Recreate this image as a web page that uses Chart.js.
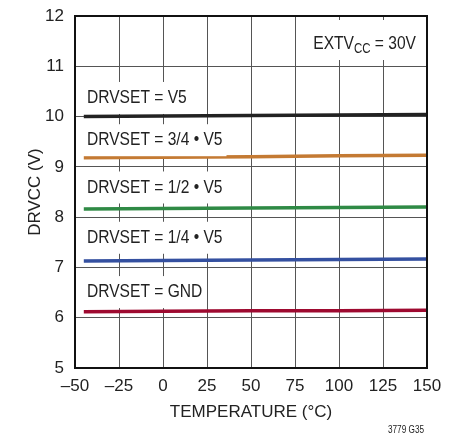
<!DOCTYPE html>
<html>
<head>
<meta charset="utf-8">
<script src="https://cdn.jsdelivr.net/npm/chart.js@4/dist/chart.umd.min.js"></script>
<style>
  html, body { margin: 0; padding: 0; background: #fff; }
  #wrap { width: 458px; height: 434px; }
</style>
</head>
<body>
<div id="wrap"><canvas id="chart" width="458" height="434"></canvas></div>
<script>
"use strict";
// temperature (°C) sample points
var temps = [-45, 0, 50, 100, 150];
// DRVCC (V) for each DRVSET setting
var v5 = [10.0, 10.01, 10.02, 10.03, 10.04];
var v5x34 = [9.18, 9.19, 9.2, 9.22, 9.23];
var v5x12 = [8.16, 8.17, 8.18, 8.19, 8.2];
var v5x14 = [7.13, 7.14, 7.15, 7.16, 7.17];
var gnd = [6.12, 6.13, 6.14, 6.14, 6.15];
var seriesNames = ["DRVSET = V5", "DRVSET = 3/4 • V5", "DRVSET = 1/2 • V5", "DRVSET = 1/4 • V5", "DRVSET = GND"];
var xTicks = [-50, -25, 0, 25, 50, 75, 100, 125, 150];
var yTicks = [5, 6, 7, 8, 9, 10, 11, 12];

var FONT = "'Liberation Sans', Arial, sans-serif";
var SQUEEZE = 0.82; // narrow the annotation text like the condensed original
var colors = ["#222222", "#c47a33", "#2f8a45", "#3450a0", "#9e0a30"];
var allSeries = [v5, v5x34, v5x12, v5x14, gnd];
// label anchor (y value) for each series name
var labelY = [10.37, 9.53, 8.59, 7.59, 6.51];

function makeData(vals) {
  return temps.map(function (t, i) { return { x: t, y: vals[i] }; });
}

// draw text squeezed horizontally, x is the left edge
function narrowText(ctx, txt, x, y) {
  ctx.save();
  ctx.translate(x, y);
  ctx.scale(SQUEEZE, 1);
  ctx.fillText(txt, 0, 0);
  ctx.restore();
}

var labelsPlugin = {
  id: "labels",
  afterDatasetsDraw: function (chart) {
    var ctx = chart.ctx;
    var area = chart.chartArea;
    var ys = chart.scales.y;
    ctx.save();
    ctx.font = "19px " + FONT;
    ctx.textBaseline = "middle";
    ctx.textAlign = "left";
    seriesNames.forEach(function (name, i) {
      var y = ys.getPixelForValue(labelY[i]);
      var w = ctx.measureText(name).width * SQUEEZE;
      ctx.fillStyle = "#fff";
      ctx.fillRect(area.left + 8, y - 16, w + 8, 32);
      ctx.fillStyle = "#222";
      narrowText(ctx, name, area.left + 12, y);
    });

    // EXTVCC = 30V note, top right
    var big = "19px " + FONT, small = "14px " + FONT;
    ctx.font = big;
    var w1 = ctx.measureText("EXTV").width * SQUEEZE;
    var w3 = ctx.measureText(" = 30V").width * SQUEEZE;
    ctx.font = small;
    var w2 = ctx.measureText("CC").width * SQUEEZE;
    var right = area.right - 11;
    var x0 = right - (w1 + w2 + w3);
    var yy = area.top + 26;
    ctx.fillStyle = "#fff";
    ctx.fillRect(x0 - 8, area.top + 4, w1 + w2 + w3 + 14, 40);
    ctx.fillStyle = "#222";
    ctx.textBaseline = "alphabetic";
    ctx.font = big;
    narrowText(ctx, "EXTV", x0, yy + 7);
    ctx.font = small;
    narrowText(ctx, "CC", x0 + w1, yy + 11);
    ctx.font = big;
    narrowText(ctx, " = 30V", x0 + w1 + w2, yy + 7);

    // part number
    ctx.font = "10px " + FONT;
    ctx.textBaseline = "middle";
    narrowText(ctx, "3779 G35", 388, 430);
    ctx.restore();
  }
};

new Chart(document.getElementById("chart"), {
  type: "line",
  data: {
    datasets: allSeries.map(function (vals, i) {
      return {
        label: seriesNames[i],
        data: makeData(vals),
        borderColor: colors[i],
        borderWidth: 3.5,
        pointRadius: 0,
        fill: false,
        tension: 0
      };
    })
  },
  options: {
    responsive: false,
    animation: false,
    devicePixelRatio: 1,
    layout: { padding: { left: 0, right: 31, top: 16, bottom: 0 } },
    plugins: {
      legend: { display: false },
      tooltip: { enabled: false }
    },
    scales: {
      x: {
        type: "linear",
        min: -50,
        max: 150,
        afterBuildTicks: function (s) { s.ticks = xTicks.map(function (v) { return { value: v }; }); },
        afterFit: function (s) {
          s.height = 66;
          s.paddingLeft = 0;
          s.paddingRight = 0;
        },
        grid: { color: "#555", lineWidth: 1, drawTicks: false },
        border: { color: "#111", width: 2 },
        ticks: {
          padding: 8,
          color: "#222",
          font: { family: FONT, size: 17 },
          maxRotation: 0,
          callback: function (v) { return v < 0 ? "\u2013" + Math.abs(v) : String(v); }
        },
        title: {
          display: true,
          text: "TEMPERATURE (°C)",
          color: "#222",
          font: { family: FONT, size: 17 },
          padding: { top: 0, bottom: 11 }
        }
      },
      y: {
        min: 5,
        max: 12,
        afterBuildTicks: function (s) { s.ticks = yTicks.map(function (v) { return { value: v }; }); },
        afterFit: function (s) {
          s.width = 75;
          s.paddingTop = 0;
          s.paddingBottom = 0;
        },
        grid: { color: "#555", lineWidth: 1, drawTicks: false },
        border: { color: "#111", width: 2 },
        ticks: {
          padding: 11,
          color: "#222",
          font: { family: FONT, size: 17 }
        },
        title: {
          display: true,
          text: "DRVCC (V)",
          color: "#222",
          font: { family: FONT, size: 17 },
          padding: { top: 25, bottom: 0 }
        }
      }
    }
  },
  plugins: [labelsPlugin, {
    id: "frame",
    afterDraw: function (chart) {
      var a = chart.chartArea, ctx = chart.ctx;
      ctx.save();
      ctx.strokeStyle = "#111";
      ctx.lineWidth = 2;
      ctx.strokeRect(a.left, a.top, a.right - a.left, a.bottom - a.top);
      ctx.restore();
    }
  }]
});
</script>
</body>
</html>
